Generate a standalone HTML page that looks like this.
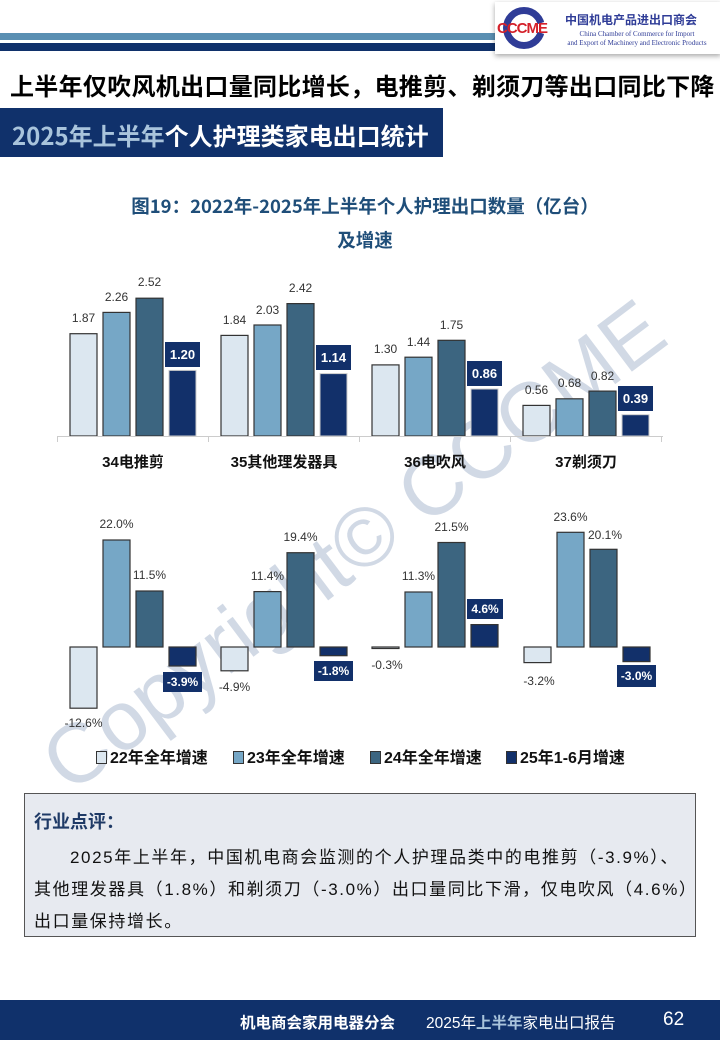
<!DOCTYPE html>
<html><head><meta charset="utf-8"><style>
body{margin:0;width:720px;height:1040px;position:relative;background:#fff;overflow:hidden;font-family:"Liberation Sans","Noto Sans CJK SC",sans-serif}
.abs{position:absolute}
</style></head><body>
<svg class="abs" style="left:0;top:0" width="720" height="1040">
<text x="0" y="0" transform="translate(70,795) rotate(-37)" font-size="84" fill="#c5d0de" fill-opacity="0.8" font-family="Liberation Sans, sans-serif">Copyright© CCCME</text>
</svg>
<div class="abs" style="left:0;top:33px;width:500px;height:7px;background:#5a8fb2"></div>
<div class="abs" style="left:0;top:43px;width:500px;height:8px;background:#10316b"></div>
<div class="abs" style="left:495px;top:2px;width:226px;height:52px;background:#fff;box-shadow:0 2px 5px rgba(0,0,0,.35)">
 <div class="abs" style="left:8px;top:5px;width:42px;height:42px;border-radius:50%;border:7px solid #2f3c97;box-sizing:border-box;clip-path:polygon(0 0,100% 0,100% 35%,55% 50%,100% 65%,100% 100%,0 100%)"></div>
 <div class="abs" style="left:2px;top:18px;font:bold 15px 'Liberation Sans',sans-serif;color:#d4202a;letter-spacing:-1px">CCCME</div>
 <div class="abs" style="left:70px;top:9px;font:bold 12px 'Noto Sans CJK SC',sans-serif;color:#2f3c97">中国机电产品进出口商会</div>
 <div class="abs" style="left:62px;top:28px;width:160px;text-align:center;font:7px 'Liberation Serif',serif;color:#2f3c97;line-height:9px">China Chamber of Commerce for Import<br>and Export of Machinery and Electronic Products</div>
</div>
<div class="abs" style="left:10px;top:67px;font:bold 24px 'Noto Sans CJK SC',sans-serif;color:#000;white-space:nowrap;letter-spacing:0.3px">上半年仅吹风机出口量同比增长，电推剪、剃须刀等出口同比下降</div>
<div class="abs" style="left:0;top:108px;width:443px;height:49px;background:#10316b"></div>
<div class="abs" style="left:12px;top:117px;font:bold 24px 'Noto Sans CJK SC',sans-serif;color:#fff;white-space:nowrap"><span style="color:#a9c4dc">2025年上半年</span>个人护理类家电出口统计</div>
<div class="abs" style="left:0;top:189px;width:730px;text-align:center;font:bold 18.5px 'Noto Sans CJK SC',sans-serif;color:#1f4e79;line-height:34px">图19：2022年-2025年上半年个人护理出口数量（亿台）<br>及增速</div>

<svg class="abs" style="left:0;top:0" width="720" height="1040" font-family="Liberation Sans, Noto Sans CJK SC, sans-serif">
<g stroke="#333" stroke-width="1.2">
<rect x="70" y="333.7" width="27" height="102.3" fill="#dce7f0"/><rect x="103" y="312.4" width="27" height="123.6" fill="#76a7c6"/><rect x="136" y="298.2" width="27" height="137.8" fill="#3c6580"/>
<rect x="221" y="335.4" width="27" height="100.6" fill="#dce7f0"/><rect x="254" y="325" width="27" height="111" fill="#76a7c6"/><rect x="287" y="303.6" width="27" height="132.4" fill="#3c6580"/>
<rect x="372" y="364.9" width="27" height="71.1" fill="#dce7f0"/><rect x="405" y="357.2" width="27" height="78.8" fill="#76a7c6"/><rect x="438" y="340.3" width="27" height="95.7" fill="#3c6580"/>
<rect x="523" y="405.4" width="27" height="30.6" fill="#dce7f0"/><rect x="556" y="398.8" width="27" height="37.2" fill="#76a7c6"/><rect x="589" y="391.1" width="27" height="44.9" fill="#3c6580"/>
</g>
<g fill="#12306a" stroke="#ccc" stroke-width="1">
<rect x="169" y="370.4" width="27" height="65.6"/><rect x="320" y="373.6" width="27" height="62.4"/><rect x="471" y="389" width="27" height="47"/><rect x="622" y="414.7" width="27" height="21.3"/>
</g>
<g stroke="#ccc" stroke-width="1"><line x1="57" y1="436.5" x2="663" y2="436.5"/>
<line x1="57.5" y1="436" x2="57.5" y2="442"/><line x1="208.5" y1="436" x2="208.5" y2="442"/><line x1="359.5" y1="436" x2="359.5" y2="442"/><line x1="510.5" y1="436" x2="510.5" y2="442"/><line x1="661.5" y1="436" x2="661.5" y2="442"/></g>
<g font-size="12" fill="#333" text-anchor="middle">
<text x="83.5" y="322">1.87</text><text x="116.5" y="301">2.26</text><text x="149.5" y="286">2.52</text>
<text x="234.5" y="324">1.84</text><text x="267.5" y="314">2.03</text><text x="300.5" y="292">2.42</text>
<text x="385.5" y="353">1.30</text><text x="418.5" y="346">1.44</text><text x="451.5" y="329">1.75</text>
<text x="536.5" y="394">0.56</text><text x="569.5" y="387">0.68</text><text x="602.5" y="380">0.82</text>
</g>
<g fill="#12306a"><rect x="165" y="342" width="35" height="25"/><rect x="316" y="345" width="35" height="25"/><rect x="467" y="361" width="35" height="25"/><rect x="618" y="386" width="35" height="25"/></g>
<g font-size="13" font-weight="bold" fill="#fff" text-anchor="middle">
<text x="182.5" y="359">1.20</text><text x="333.5" y="362">1.14</text><text x="484.5" y="378">0.86</text><text x="635.5" y="403">0.39</text></g>
<g font-size="15" font-weight="bold" fill="#111" text-anchor="middle">
<text x="133" y="467">34电推剪</text><text x="284" y="467">35其他理发器具</text><text x="435" y="467">36电吹风</text><text x="586" y="467">37剃须刀</text></g>

<g stroke="#333" stroke-width="1.2">
<rect x="70" y="647" width="27" height="61.2" fill="#dce7f0"/><rect x="103" y="540" width="27" height="107" fill="#76a7c6"/><rect x="136" y="591" width="27" height="56" fill="#3c6580"/>
<rect x="221" y="647" width="27" height="23.8" fill="#dce7f0"/><rect x="254" y="591.6" width="27" height="55.4" fill="#76a7c6"/><rect x="287" y="552.7" width="27" height="94.3" fill="#3c6580"/>
<rect x="372" y="647" width="27" height="1.5" fill="#dce7f0"/><rect x="405" y="592" width="27" height="55" fill="#76a7c6"/><rect x="438" y="542.5" width="27" height="104.5" fill="#3c6580"/>
<rect x="524" y="647" width="27" height="15.6" fill="#dce7f0"/><rect x="557" y="532.3" width="27" height="114.7" fill="#76a7c6"/><rect x="590" y="549.3" width="27" height="97.7" fill="#3c6580"/>
<rect x="169" y="647" width="27" height="19" fill="#12306a"/><rect x="320" y="647" width="27" height="8.7" fill="#12306a"/><rect x="471" y="624.6" width="27" height="22.4" fill="#12306a"/><rect x="623" y="647" width="27" height="14.6" fill="#12306a"/>
</g>
<g font-size="12" fill="#333" text-anchor="middle">
<text x="83.5" y="727">-12.6%</text><text x="116.5" y="528">22.0%</text><text x="149.5" y="579">11.5%</text>
<text x="234.5" y="691">-4.9%</text><text x="267.5" y="580">11.4%</text><text x="300.5" y="541">19.4%</text>
<text x="387" y="669">-0.3%</text><text x="418.5" y="580">11.3%</text><text x="451.5" y="531">21.5%</text>
<text x="539" y="685">-3.2%</text><text x="570.5" y="521">23.6%</text><text x="605" y="539">20.1%</text>
</g>
<g fill="#12306a"><rect x="163" y="672" width="39" height="20"/><rect x="314" y="661" width="39" height="20"/><rect x="467" y="599" width="36" height="20"/><rect x="617" y="665" width="39" height="22"/></g>
<g font-size="12" font-weight="bold" fill="#fff" text-anchor="middle">
<text x="182.5" y="686">-3.9%</text><text x="333.5" y="675">-1.8%</text><text x="485" y="613">4.6%</text><text x="636.5" y="680">-3.0%</text></g>

<g stroke="#333" stroke-width="1"><rect x="96.5" y="751.5" width="10" height="12" fill="#dce7f0"/><rect x="233.5" y="751.5" width="10" height="12" fill="#76a7c6"/><rect x="370.5" y="751.5" width="10" height="12" fill="#3c6580"/><rect x="506.5" y="751.5" width="10" height="12" fill="#12306a"/></g>
<g font-size="16" font-weight="bold" fill="#111"><text x="110" y="763">22年全年增速</text><text x="247" y="763">23年全年增速</text><text x="384" y="763">24年全年增速</text><text x="520" y="763">25年1-6月增速</text></g>
</svg>

<div class="abs" style="left:24px;top:793px;width:672px;height:144px;background:#e7eaf0;border:1px solid #555;box-sizing:border-box"></div>
<div class="abs" style="left:34px;top:808px;font:bold 18px 'Noto Sans CJK SC',sans-serif;color:#1f3a66">行业点评：</div>
<div class="abs" style="left:34px;top:842px;width:670px;font:17px 'Liberation Sans','Noto Sans CJK SC',sans-serif;color:#111;line-height:32px;text-indent:36px;white-space:nowrap;letter-spacing:1.6px">2025年上半年，中国机电商会监测的个人护理品类中的电推剪（-3.9%）、</div>
<div class="abs" style="left:34px;top:874px;width:670px;font:17px 'Liberation Sans','Noto Sans CJK SC',sans-serif;color:#111;line-height:32px;white-space:nowrap;letter-spacing:1.6px">其他理发器具（1.8%）和剃须刀（-3.0%）出口量同比下滑，仅电吹风（4.6%）<br>出口量保持增长。</div>

<div class="abs" style="left:0;top:1000px;width:720px;height:40px;background:#10316b"></div>
<div class="abs" style="left:240px;top:1011px;font:bold 15.5px 'Noto Sans CJK SC',sans-serif;color:#fff;white-space:nowrap">机电商会家用电器分会</div>
<div class="abs" style="left:426px;top:1011px;font:15.5px 'Liberation Sans','Noto Sans CJK SC',sans-serif;color:#fff;white-space:nowrap">2025年<b style="color:#a9c4dc">上半年</b>家电出口报告</div>
<div class="abs" style="left:663px;top:1009px;font:19px 'Liberation Sans',sans-serif;color:#fff">62</div>
</body></html>
